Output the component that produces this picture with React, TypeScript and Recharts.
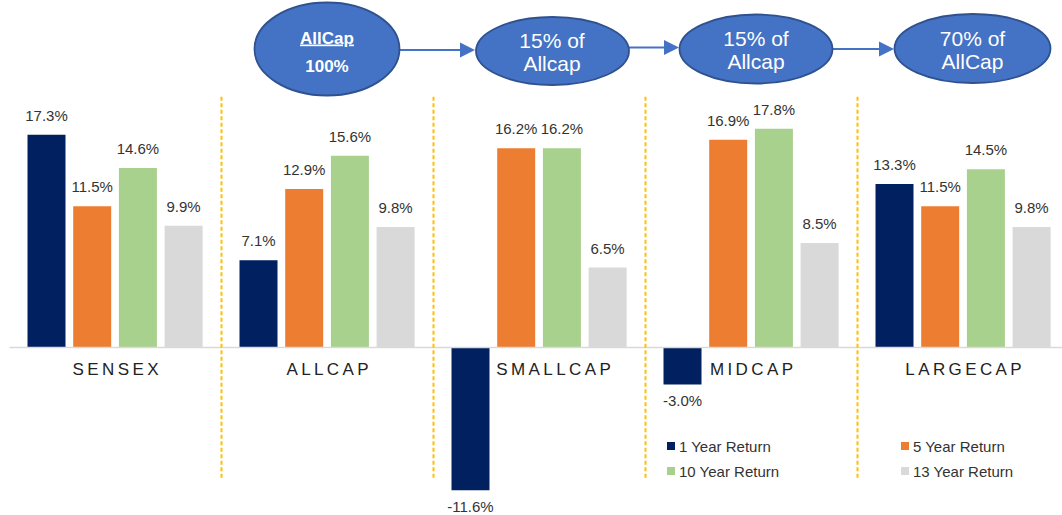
import React from 'react';
import { BarChart, Bar, XAxis, YAxis, ReferenceLine, ReferenceDot, LabelList, Legend } from 'recharts';

const categories = ['SENSEX', 'ALLCAP', 'SMALLCAP', 'MIDCAP', 'LARGECAP'];
const oneYearReturn = [17.3, 7.1, -11.6, -3.0, 13.3];
const fiveYearReturn = [11.5, 12.9, 16.2, 16.9, 11.5];
const tenYearReturn = [14.6, 15.6, 16.2, 17.8, 14.5];
const thirteenYearReturn = [9.9, 9.8, 6.5, 8.5, 9.8];

const seriesKeys = ['y1', 'y5', 'y10', 'y13'];
const seriesNames = ['1 Year Return', '5 Year Return', '10 Year Return', '13 Year Return'];
const seriesColors = ['#002060', '#ED7D31', '#A9D18E', '#D9D9D9'];
// separators are drawn at the start of these categories
const separatorCategories = ['ALLCAP', 'SMALLCAP', 'MIDCAP', 'LARGECAP'];

const flowBubbles = [
  { lines: ['AllCap', '100%'], bold: true },
  { lines: ['15% of', 'Allcap'], bold: false },
  { lines: ['15% of', 'Allcap'], bold: false },
  { lines: ['70% of', 'AllCap'], bold: false },
];

const data = categories.map((name, i) => ({
  name,
  y1: oneYearReturn[i],
  y5: fiveYearReturn[i],
  y10: tenYearReturn[i],
  y13: thirteenYearReturn[i],
}));

const FONT = '"Liberation Sans", Arial, sans-serif';

// horizontal nudge of a category label (the reference moves SMALLCAP clear of its negative bar)
const categoryLabelShift: Record<string, number> = { SMALLCAP: 14 };

const ValueLabel = (props: any) => {
  const { x, y, width, height, value } = props;
  const top = Math.min(y, y + height);
  const bottom = Math.max(y, y + height);
  const cx = x + width / 2;
  const ty = value >= 0 ? top - 14 : bottom + 22;
  return (
    <text x={cx} y={ty} textAnchor="middle" fontSize={15} fill="#333" fontFamily={FONT}>
      {`${Number(value).toFixed(1)}%`}
    </text>
  );
};

const CategoryLabel = (name: string) => (props: any) => {
  const vb = props.viewBox || {};
  const cx = vb.x + (vb.width || 0) / 2 + (categoryLabelShift[name] || 0);
  const cy = vb.y + (vb.height || 0) / 2;
  return (
    <text x={cx + 1.7} y={cy + 27} textAnchor="middle" fontSize={17} letterSpacing={3.4} fill="#222" fontFamily={FONT}>
      {name}
    </text>
  );
};

const LegendContent = () => (
  <div style={{ display: 'grid', gridTemplateColumns: '234px 160px', rowGap: 7, fontFamily: FONT, fontSize: 15, color: '#333' }}>
    {seriesNames.map((n, i) => (
      <div key={n} style={{ display: 'flex', alignItems: 'center', height: 18 }}>
        <span style={{ display: 'inline-block', width: 8, height: 8, background: seriesColors[i], marginRight: 4 }} />
        <span>{n}</span>
      </div>
    ))}
  </div>
);

const bubbleGeom = [
  { cx: 327, cy: 49, rx: 72.5, ry: 46.5, base: [43.5, 71.5], tx: 327 },
  { cx: 552.5, cy: 51, rx: 76.5, ry: 34, base: [48, 70.5], tx: 552 },
  { cx: 756, cy: 49, rx: 76.5, ry: 34.5, base: [45.5, 69], tx: 756 },
  { cx: 972.5, cy: 48.5, rx: 78, ry: 34.5, base: [45.5, 69], tx: 972.5 },
];

const arrows = [
  { x1: 400, x2: 475, y: 50 },
  { x1: 629, x2: 679, y: 47.5 },
  { x1: 832.5, x2: 894, y: 49 },
];

const FlowOverlay = () => (
  <svg width={1062} height={100} style={{ position: 'absolute', left: 0, top: 0, pointerEvents: 'none' }}>
    {arrows.map((a, i) => (
      <g key={i}>
        <line x1={a.x1} y1={a.y} x2={a.x2 - 12} y2={a.y} stroke="#4472C4" strokeWidth={2.2} />
        <polygon points={`${a.x2},${a.y} ${a.x2 - 15},${a.y - 7.5} ${a.x2 - 15},${a.y + 7.5}`} fill="#4472C4" />
      </g>
    ))}
    {flowBubbles.map((b, i) => {
      const g = bubbleGeom[i];
      return (
        <g key={i}>
          <ellipse cx={g.cx} cy={g.cy} rx={g.rx} ry={g.ry} fill="#4472C4" stroke="#2F528F" strokeWidth={1.8} />
          <text x={g.tx} y={g.base[0]} textAnchor="middle" fill="#fff" fontFamily={FONT}
            fontSize={b.bold ? 17 : 21} fontWeight={b.bold ? 700 : 400}
            textDecoration={b.bold ? 'underline' : undefined}>
            {b.lines[0]}
          </text>
          <text x={g.tx} y={g.base[1]} textAnchor="middle" fill="#fff" fontFamily={FONT}
            fontSize={b.bold ? 17 : 21} fontWeight={b.bold ? 700 : 400}>
            {b.lines[1]}
          </text>
        </g>
      );
    })}
  </svg>
);

export default function App() {
  return (
    <div style={{ position: 'absolute', left: 0, top: 0, width: 1062, height: 515, overflow: 'hidden', background: '#fff' }}>
      <BarChart
        width={1075}
        height={515}
        data={data}
        margin={{ top: 95.5, right: 5.5, bottom: 1.5, left: 9.5 }}
        barSize={38}
        barGap={7.7}
      >
        <XAxis dataKey="name" hide />
        <YAxis hide type="number" domain={[-13.5, 20.5]} allowDataOverflow />
        <ReferenceLine y={0} stroke="#D9D9D9" strokeWidth={1.5} />
        {separatorCategories.map((c) => (
          <ReferenceLine
            key={c}
            position="start"
            segment={[{ x: c, y: 20.4 }, { x: c, y: -10.8 }]}
            stroke="#FFC000"
            strokeWidth={2}
            strokeDasharray="4 2.5"
          />
        ))}
        {seriesKeys.map((k, i) => (
          <Bar key={k} dataKey={k} name={seriesNames[i]} fill={seriesColors[i]} isAnimationActive={false}>
            <LabelList dataKey={k} content={ValueLabel} />
          </Bar>
        ))}
        {categories.map((c) => (
          <ReferenceDot key={c} x={c} y={0} r={1} fill="none" stroke="none" label={CategoryLabel(c)} />
        ))}
        <Legend
          layout="horizontal"
          verticalAlign="middle"
          align="center"
          content={LegendContent}
          wrapperStyle={{ left: 667, top: 437, width: 400, height: 50 }}
        />
      </BarChart>
      <FlowOverlay />
    </div>
  );
}
